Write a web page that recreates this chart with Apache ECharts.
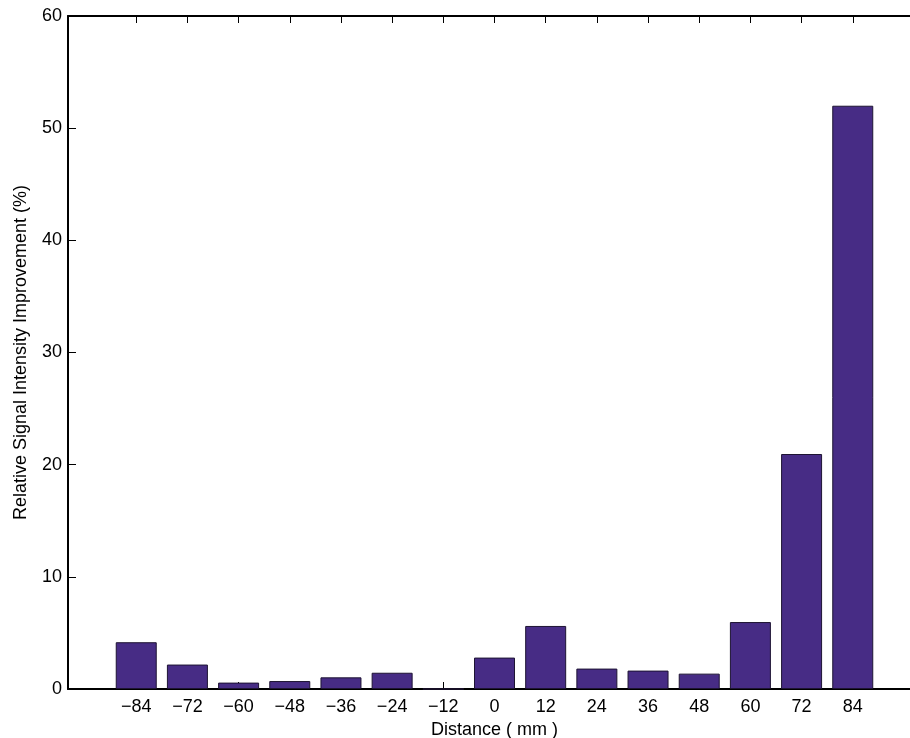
<!DOCTYPE html>
<html>
<head>
<meta charset="utf-8">
<script src="https://cdn.jsdelivr.net/npm/echarts@6/dist/echarts.min.js"></script>
<style>
  html, body { margin: 0; padding: 0; background: #fff; }
  /* the axes box runs slightly past the right edge of the frame */
  #frame { width: 910px; height: 738px; overflow: hidden; position: relative; }
  #chart { width: 921px; height: 738px; position: absolute; left: 0; top: 0; }
</style>
</head>
<body>
<div id="frame"><div id="chart"></div></div>
<script>
// Measurement positions along the axis (mm)
const distances = [-84, -72, -60, -48, -36, -24, -12, 0, 12, 24, 36, 48, 60, 72, 84];
// Relative signal intensity improvement (%) at each position
const improvement = [4.17, 2.18, 0.57, 0.71, 1.04, 1.45, 0, 2.8, 5.62, 1.82, 1.64, 1.37, 5.97, 20.95, 52.0];
// Tick positions shown on the distance axis
const xTicks = distances.slice();

const FONT = '"Liberation Sans", Arial, Helvetica, sans-serif';
const fmtMinus = v => (v < 0 ? '\u2212' + Math.abs(v) : String(v));

const chart = echarts.init(document.getElementById('chart'), null, { renderer: 'canvas' });

chart.setOption({
  animation: false,
  backgroundColor: '#ffffff',
  grid: { left: 68, top: 16, right: 0, height: 673, containLabel: false, outerBoundsMode: 'none' },
  xAxis: [
    {
      type: 'value',
      min: -100,
      max: 100,
      position: 'bottom',
      name: 'Distance ( mm )',
      nameLocation: 'middle',
      nameGap: 31,
      nameTextStyle: { fontFamily: FONT, fontSize: 18, color: '#000' },
      splitLine: { show: false },
      axisLine: { show: true, onZero: false, lineStyle: { color: '#000', width: 2 } },
      axisTick: { show: true, inside: true, length: 7, customValues: xTicks, lineStyle: { color: '#000', width: 1 } },
      axisLabel: {
        customValues: xTicks,
        formatter: fmtMinus,
        margin: 9,
        fontFamily: FONT,
        fontSize: 18,
        color: '#000'
      }
    },
    {
      type: 'value',
      min: -100,
      max: 100,
      position: 'top',
      splitLine: { show: false },
      axisLine: { show: true, onZero: false, lineStyle: { color: '#000', width: 2 } },
      axisTick: { show: true, inside: true, length: 7, customValues: xTicks, lineStyle: { color: '#000', width: 1 } },
      axisLabel: { show: false }
    }
  ],
  yAxis: {
    type: 'value',
    min: 0,
    max: 60,
    interval: 10,
    position: 'left',
    name: 'Relative Signal Intensity Improvement (%)',
    nameLocation: 'middle',
    nameGap: 38,
    nameTextStyle: { fontFamily: FONT, fontSize: 18, color: '#000' },
    splitLine: { show: false },
    axisLine: { show: true, onZero: false, lineStyle: { color: '#000', width: 2 } },
    axisTick: { show: true, inside: true, length: 8, lineStyle: { color: '#000', width: 1 } },
    axisLabel: { margin: 6, fontFamily: FONT, fontSize: 18, color: '#000' }
  },
  series: [
    {
      type: 'bar',
      xAxisIndex: 0,
      barWidth: 41,
      data: distances.map((d, i) => [d, improvement[i]]),
      itemStyle: { color: '#472c85', borderColor: '#1e1433', borderWidth: 1 }
    }
  ]
});
</script>
</body>
</html>
